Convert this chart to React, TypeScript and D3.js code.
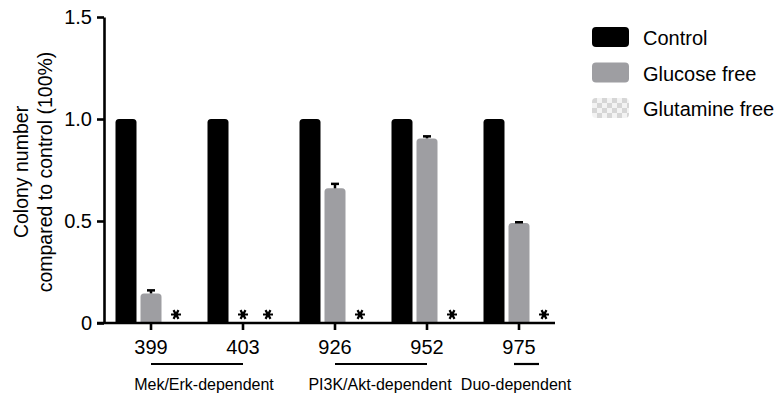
import React, { useRef, useEffect } from "react";
import * as d3 from "d3";

// cell lines and values
const cellLines = ["399", "403", "926", "952", "975"];
const seriesNames = ["Control", "Glucose free", "Glutamine free"];
const controlValues = [1, 1, 1, 1, 1];
const glucoseValues = [0.145, 0, 0.66, 0.905, 0.49];
const glucoseErrors = [0.015, 0, 0.022, 0.01, 0.004];
const glutamineValues = [0, 0, 0, 0, 0];
// significance stars
const glucoseStars = [false, true, false, false, false];
const glutamineStars = [true, true, true, true, true];
const yTicks = [0, 0.5, 1.0, 1.5];
const groupLabels = ["Mek/Erk-dependent", "PI3K/Akt-dependent", "Duo-dependent"];
const groupFirst = ["399", "926", "975"];
const groupLast = ["403", "952", "975"];

const FONT = "'Liberation Sans', Arial, Helvetica, sans-serif";

const App = () => {
  const ref = useRef<SVGSVGElement>(null);

  useEffect(() => {
    const svg = d3.select(ref.current);
    svg.selectAll("*").remove();

    const width = 777;
    const height = 396;
    svg.attr("width", width).attr("height", height);

    const defs = svg.append("defs");
    const pat = defs
      .append("pattern")
      .attr("id", "checks")
      .attr("width", 10)
      .attr("height", 10)
      .attr("patternUnits", "userSpaceOnUse");
    pat.append("rect").attr("width", 10).attr("height", 10).attr("fill", "#d6d6d6");
    pat.append("rect").attr("x", 0).attr("y", 5).attr("width", 5).attr("height", 5).attr("fill", "#f3f3f3");
    pat.append("rect").attr("x", 5).attr("y", 0).attr("width", 5).attr("height", 5).attr("fill", "#f3f3f3");

    const axisX = 104;
    const y = d3.scaleLinear().domain([0, 1.5]).range([323, 17]);
    const x = d3.scaleBand().domain(cellLines).range([105, 565]).padding(0);
    const inner = d3
      .scaleBand()
      .domain(seriesNames)
      .range([-37.5, 37.5])
      .paddingInner(0.16)
      .paddingOuter(0.08);
    const bw = inner.bandwidth();
    const center = (c: string) => (x(c) as number) + x.bandwidth() / 2;
    const colors = ["#000000", "#9e9ea2", "url(#checks)"];

    const rows = cellLines.map((c, i) => ({
      c,
      vals: [controlValues[i], glucoseValues[i], glutamineValues[i]],
      stars: [false, glucoseStars[i], glutamineStars[i]],
      err: glucoseErrors[i],
    }));

    const roundTop = (x0: number, y0: number, w: number, h: number, r: number) => {
      const rr = Math.min(r, h, w / 2);
      return `M${x0},${y0 + h}V${y0 + rr}Q${x0},${y0} ${x0 + rr},${y0}H${x0 + w - rr}Q${x0 + w},${y0} ${x0 + w},${y0 + rr}V${y0 + h}Z`;
    };

    const star = d3.symbol().type(d3.symbolAsterisk).size(70);

    const g = svg.append("g");

    rows.forEach((row) => {
      // bars
      row.vals.forEach((v, k) => {
        if (v <= 0) return;
        const bx = center(row.c) + (inner(seriesNames[k]) as number);
        g.append("path")
          .attr("d", roundTop(bx, y(v), bw, y(0) - y(v), 3.5))
          .attr("fill", colors[k]);
      });
      // error bar on glucose (upper half only)
      const gv = row.vals[1];
      if (gv > 0) {
        const cx = center(row.c) + (inner(seriesNames[1]) as number) + bw / 2;
        const top = y(gv + row.err);
        g.append("line")
          .attr("x1", cx).attr("x2", cx)
          .attr("y1", y(gv)).attr("y2", top)
          .attr("stroke", "#000").attr("stroke-width", 2.5);
        g.append("line")
          .attr("x1", cx - 4).attr("x2", cx + 4)
          .attr("y1", top).attr("y2", top)
          .attr("stroke", "#000").attr("stroke-width", 2.5);
      }
      // stars
      row.stars.forEach((s, k) => {
        if (!s) return;
        const sx = center(row.c) + (inner(seriesNames[k]) as number) + bw / 2;
        g.append("path")
          .attr("d", star() as string)
          .attr("transform", `translate(${sx},${y(0) - 8.5}) rotate(90)`)
          .attr("fill", "none")
          .attr("stroke", "#000")
          .attr("stroke-width", 2.2);
      });
    });

    // y axis
    const yAxis = svg
      .append("g")
      .attr("transform", `translate(${axisX},0)`)
      .call(
        d3
          .axisLeft(y)
          .tickValues(yTicks)
          .tickSize(7)
          .tickSizeOuter(0)
          .tickPadding(5)
          .tickFormat((d) => (d === 0 ? "0" : d3.format(".1f")(d as number)))
      );
    yAxis.select(".domain").attr("stroke-width", 2.6);
    yAxis.selectAll(".tick line").attr("stroke-width", 2.6);
    yAxis.selectAll("text").style("font-size", "20px").style("font-family", FONT).attr("fill", "#000");

    // x axis
    const xAxis = svg
      .append("g")
      .attr("transform", `translate(0,${y(0)})`)
      .call(d3.axisBottom(x).tickSize(7).tickSizeOuter(0).tickPadding(10));
    xAxis.select(".domain").remove();
    xAxis
      .append("line")
      .attr("x1", axisX - 7)
      .attr("x2", 555)
      .attr("stroke", "#000")
      .attr("stroke-width", 2.6);
    xAxis.selectAll(".tick line").attr("stroke-width", 2.6);
    xAxis.selectAll("text").style("font-size", "20px").style("font-family", FONT).attr("fill", "#000");

    // groups: underline below the member cell lines, label centred beneath
    const labelShift = [7, -1, -3];
    groupLabels.forEach((label, i) => {
      const a = center(groupFirst[i]);
      const b = center(groupLast[i]);
      const x1 = a === b ? a - 5 : a;
      const x2 = a === b ? b + 20 : b;
      svg.append("line")
        .attr("x1", x1).attr("x2", x2)
        .attr("y1", 364).attr("y2", 364)
        .attr("stroke", "#000").attr("stroke-width", 2.2);
      svg.append("text")
        .attr("x", (a + b) / 2 + labelShift[i])
        .attr("y", 390)
        .attr("text-anchor", "middle")
        .style("font-family", FONT)
        .style("font-size", "16px")
        .text(label);
    });

    // y title
    const ty = (y(0) + y(1.5)) / 2;
    const title = svg
      .append("text")
      .attr("transform", `translate(28,${ty + 2}) rotate(-90)`)
      .attr("text-anchor", "middle")
      .style("font-family", FONT)
      .style("font-size", "19.5px");
    title.append("tspan").attr("x", 0).attr("y", 0).text("Colony number");
    title.append("tspan").attr("x", 0).attr("y", 24).text("compared to control (100%)");

    // legend
    const legend = svg.append("g").attr("transform", "translate(592,27)");
    seriesNames.forEach((name, k) => {
      const row = legend.append("g").attr("transform", `translate(0,${k * 35.5})`);
      row.append("rect")
        .attr("width", 37).attr("height", 20).attr("rx", 4)
        .attr("fill", colors[k]);
      row.append("text")
        .attr("x", 51).attr("y", 18)
        .style("font-family", FONT)
        .style("font-size", "20px")
        .text(name);
    });
  }, []);

  return (
    <svg
      ref={ref}
      style={{ position: "absolute", left: 0, top: 0, display: "block", background: "#fff" }}
    ></svg>
  );
};

export default App;
